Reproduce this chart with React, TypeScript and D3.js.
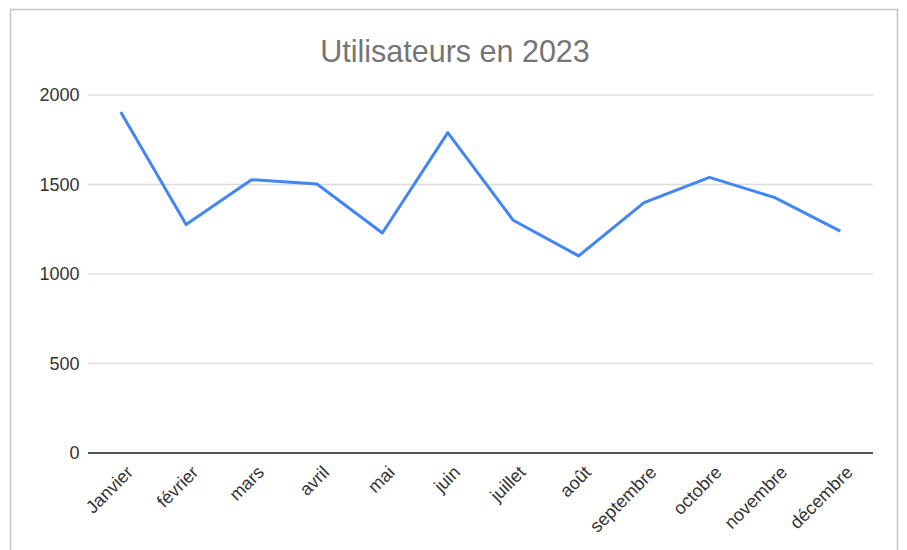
import React, { useRef, useEffect } from 'react';
import * as d3 from 'd3';

const months = ['Janvier', 'février', 'mars', 'avril', 'mai', 'juin', 'juillet', 'août', 'septembre', 'octobre', 'novembre', 'décembre'];
const users = [1905, 1276, 1527, 1503, 1229, 1790, 1300, 1101, 1399, 1540, 1427, 1240];
const yTicks = [0, 500, 1000, 1500, 2000];

const App = () => {
  const svgRef = useRef<SVGSVGElement>(null);

  useEffect(() => {
    const svg = d3.select(svgRef.current);
    svg.selectAll('*').remove();

    const width = 907;
    const height = 550;
    const margin = { top: 95, right: 34, bottom: 97, left: 88 };
    const font = '"Liberation Sans", Arial, sans-serif';

    svg.attr('width', width).attr('height', height);

    // background and frame
    svg.append('rect').attr('width', width).attr('height', height).attr('fill', '#fff');
    svg.append('rect')
      .attr('x', 10.5).attr('y', 9.5)
      .attr('width', 887).attr('height', 560)
      .attr('fill', 'none')
      .attr('stroke', '#c4c4c4')
      .attr('stroke-width', 1.5);

    svg.append('text')
      .attr('x', 455)
      .attr('y', 61.5)
      .attr('text-anchor', 'middle')
      .style('font-family', font)
      .style('font-size', '30.5px')
      .attr('fill', '#757575')
      .text('Utilisateurs en 2023');

    const x = d3.scaleBand()
      .domain(months)
      .range([margin.left, width - margin.right]);

    const y = d3.scaleLinear()
      .domain([0, 2000])
      .range([height - margin.bottom, margin.top]);

    // gridlines
    svg.append('g')
      .selectAll('line')
      .data(yTicks.filter(d => d !== 0))
      .enter()
      .append('line')
      .attr('x1', margin.left)
      .attr('x2', width - margin.right)
      .attr('y1', d => y(d))
      .attr('y2', d => y(d))
      .attr('stroke', '#dcdcdc')
      .attr('stroke-width', 1.5);

    // y labels
    svg.append('g')
      .selectAll('text')
      .data(yTicks)
      .enter()
      .append('text')
      .attr('x', 79.5)
      .attr('y', d => y(d))
      .attr('dy', '0.35em')
      .attr('text-anchor', 'end')
      .style('font-family', font)
      .style('font-size', '18px')
      .attr('fill', '#333')
      .text(d => d);

    // baseline
    svg.append('line')
      .attr('x1', margin.left)
      .attr('x2', width - margin.right)
      .attr('y1', y(0))
      .attr('y2', y(0))
      .attr('stroke', '#555')
      .attr('stroke-width', 2);

    // x labels
    svg.append('g')
      .selectAll('text')
      .data(months)
      .enter()
      .append('text')
      .attr('transform', d => `translate(${x(d)! + x.bandwidth() / 2 + 9}, ${y(0) + 16}) rotate(-45)`)
      .attr('text-anchor', 'end')
      .attr('dy', '0.35em')
      .style('font-family', font)
      .style('font-size', '18px')
      .attr('fill', '#333')
      .text(d => d);

    const line = d3.line<number>()
      .x((d, i) => x(months[i])! + x.bandwidth() / 2)
      .y(d => y(d));

    svg.append('path')
      .datum(users)
      .attr('d', line)
      .attr('fill', 'none')
      .attr('stroke', '#4285f4')
      .attr('stroke-width', 3)
      .attr('stroke-linejoin', 'round');
  }, []);

  return (
    <div style={{ position: 'absolute', left: 0, top: 0 }}>
      <svg ref={svgRef} style={{ display: 'block' }}></svg>
    </div>
  );
};

export default App;
